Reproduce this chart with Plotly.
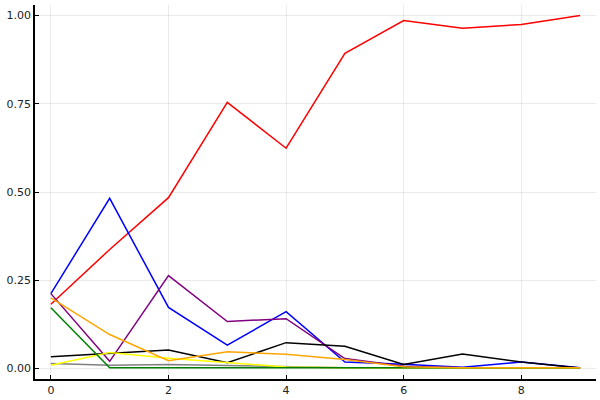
import plotly.graph_objects as go

x = list(range(10))

red = [0.182, 0.337, 0.484, 0.754, 0.624, 0.893, 0.986, 0.964, 0.975, 1.0]
blue = [0.212, 0.482, 0.173, 0.066, 0.161, 0.018, 0.012, 0.003, 0.018, 0.002]
purple = [0.212, 0.02, 0.263, 0.133, 0.141, 0.028, 0.006, 0.002, 0.002, 0.001]
black = [0.033, 0.043, 0.052, 0.016, 0.073, 0.063, 0.011, 0.041, 0.018, 0.001]
gray = [0.014, 0.009, 0.011, 0.008, 0.003, 0.002, 0.001, 0.001, 0.001, 0.001]
yellow = [0.009, 0.045, 0.029, 0.017, 0.004, 0.002, 0.001, 0.001, 0.001, 0.001]
green = [0.172, 0.002, 0.002, 0.002, 0.002, 0.002, 0.002, 0.002, 0.002, 0.002]
orange = [0.2, 0.096, 0.022, 0.047, 0.04, 0.025, 0.005, 0.002, 0.002, 0.002]

series = [
    ("y1", red, "#ff0000"),
    ("y2", blue, "#0000ff"),
    ("y3", purple, "#800080"),
    ("y4", black, "#000000"),
    ("y5", gray, "#808080"),
    ("y6", yellow, "#ffff00"),
    ("y7", green, "#008000"),
    ("y8", orange, "#ffa500"),
]

xticks = [0, 2, 4, 6, 8]
yticks = [0, 0.25, 0.5, 0.75, 1.0]
yticklabels = ["0.00", "0.25", "0.50", "0.75", "1.00"]

fig = go.Figure()
for name, vals, col in series:
    fig.add_trace(go.Scatter(x=x, y=vals, mode="lines", name=name,
                             line=dict(color=col, width=1.5)))

axis_common = dict(
    showgrid=True, gridcolor="rgba(0,0,0,0.08)", gridwidth=1,
    zeroline=False, showline=True, linecolor="black", linewidth=1.5,
    ticks="inside", ticklen=4, tickcolor="black",
    tickfont=dict(family="DejaVu Sans", size=11, color="#222222"),
    mirror=False, automargin=False,
)

fig.update_layout(
    width=600, height=400,
    margin=dict(l=35, r=4, t=5, b=21),
    paper_bgcolor="white", plot_bgcolor="white",
    showlegend=False,
    xaxis=dict(range=[-0.27, 9.27], tickvals=xticks, **axis_common),
    yaxis=dict(range=[-0.03, 1.03], tickvals=yticks, ticktext=yticklabels, **axis_common),
)

fig.write_html("out.html", config={"displayModeBar": False},
               post_script="document.body.style.margin='0';")
